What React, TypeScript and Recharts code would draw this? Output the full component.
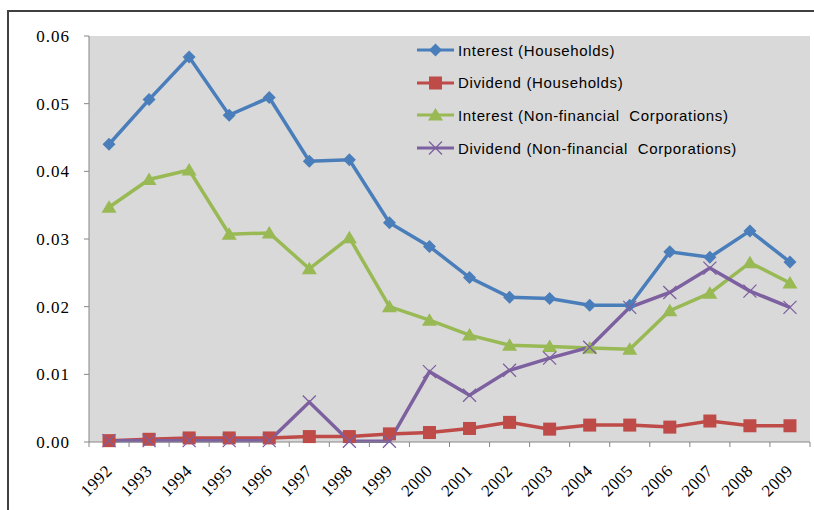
import { LineChart, Line, XAxis, YAxis, CartesianGrid } from 'recharts';

// values
const years = [
  '1992', '1993', '1994', '1995', '1996', '1997', '1998', '1999', '2000',
  '2001', '2002', '2003', '2004', '2005', '2006', '2007', '2008', '2009',
];
const interestHouseholds = [
  0.0440, 0.0506, 0.0569, 0.0483, 0.0509, 0.0415, 0.0417, 0.0324, 0.0289,
  0.0243, 0.0214, 0.0212, 0.0202, 0.0202, 0.0281, 0.0273, 0.0312, 0.0266,
];
const dividendHouseholds = [
  0.0002, 0.0004, 0.0006, 0.0006, 0.0006, 0.0008, 0.0008, 0.0012, 0.0014,
  0.0020, 0.0029, 0.0019, 0.0025, 0.0025, 0.0022, 0.0031, 0.0024, 0.0024,
];
const interestCorporations = [
  0.0347, 0.0388, 0.0402, 0.0307, 0.0309, 0.0256, 0.0302, 0.0200, 0.0180,
  0.0158, 0.0143, 0.0141, 0.0139, 0.0137, 0.0194, 0.0220, 0.0265, 0.0235,
];
const dividendCorporations = [
  0.0002, 0.0002, 0.0002, 0.0002, 0.0002, 0.0059, 0.0001, 0.0001, 0.0104,
  0.0069, 0.0106, 0.0124, 0.0140, 0.0199, 0.0221, 0.0257, 0.0223, 0.0199,
];
const yTicks = [0, 0.01, 0.02, 0.03, 0.04, 0.05, 0.06];

const data = years.map((year, i) => ({
  year,
  ih: interestHouseholds[i],
  dh: dividendHouseholds[i],
  ic: interestCorporations[i],
  dc: dividendCorporations[i],
}));

const BLUE = '#4a7ebb';
const RED = '#be4b48';
const GREEN = '#98b954';
const PURPLE = '#7d60a0';

const W = 814;
const H = 510;
const M = { top: 36, right: 4, bottom: 0, left: 0 };
const X_H = 68;
const Y_W = 89;
const BAND = (W - M.right - Y_W) / years.length;

const serif = '"Liberation Serif", "Times New Roman", serif';
const sans = '"Liberation Sans", Arial, sans-serif';

type DotProps = { cx?: number; cy?: number; color?: string };

const Diamond = ({ cx = 0, cy = 0, color = BLUE }: DotProps) => (
  <path d={`M${cx},${cy - 6.5}L${cx + 6.5},${cy}L${cx},${cy + 6.5}L${cx - 6.5},${cy}Z`} fill={color} />
);
const Square = ({ cx = 0, cy = 0, color = RED }: DotProps) => (
  <rect x={cx - 6.5} y={cy - 6.5} width={13} height={13} fill={color} />
);
const Triangle = ({ cx = 0, cy = 0, color = GREEN }: DotProps) => (
  <path d={`M${cx},${cy - 7}L${cx + 7.5},${cy + 5.5}L${cx - 7.5},${cy + 5.5}Z`} fill={color} />
);
const Cross = ({ cx = 0, cy = 0, color = PURPLE }: DotProps) => (
  <path
    d={`M${cx - 6.5},${cy - 6.5}L${cx + 6.5},${cy + 6.5}M${cx - 6.5},${cy + 6.5}L${cx + 6.5},${cy - 6.5}`}
    stroke={color}
    strokeWidth={1.3}
    fill="none"
  />
);

const legendItems = [
  { label: 'Interest (Households)', color: BLUE, Marker: Diamond },
  { label: 'Dividend (Households)', color: RED, Marker: Square },
  { label: 'Interest (Non-financial  Corporations)', color: GREEN, Marker: Triangle },
  { label: 'Dividend (Non-financial  Corporations)', color: PURPLE, Marker: Cross },
];

function LegendBox() {
  return (
    <div style={{ position: 'absolute', left: 417, top: 34 }}>
      {legendItems.map(({ label, color, Marker }) => (
        <div key={label} style={{ display: 'flex', alignItems: 'center', height: 32.6 }}>
          <svg width={41} height={16}>
            <line x1={0} y1={8} x2={37} y2={8} stroke={color} strokeWidth={3} />
            <Marker cx={18.5} cy={8} color={color} />
          </svg>
          <span style={{ fontFamily: sans, fontSize: 15, letterSpacing: 0.65, color: '#000', whiteSpace: 'pre' }}>
            {label}
          </span>
        </div>
      ))}
    </div>
  );
}

function YearTick(props: any) {
  const { x, y, payload, index } = props;
  const last = index === years.length - 1;
  const tx = x + 4;
  const ty = y + 28;
  return (
    <g>
      <line x1={x - BAND / 2} y1={y - 2} x2={x - BAND / 2} y2={y + 3} stroke="#868686" />
      {last && <line x1={x + BAND / 2} y1={y - 2} x2={x + BAND / 2} y2={y + 3} stroke="#868686" />}
      <text
        x={tx}
        y={ty}
        transform={`rotate(-45, ${tx}, ${ty})`}
        textAnchor="end"
        fontFamily={serif}
        fontSize={17}
        letterSpacing={0.5}
        fill="#000"
      >
        {payload.value}
      </text>
    </g>
  );
}

function ValueTick(props: any) {
  const { x, y, payload } = props;
  return (
    <text x={x} y={y} dy={6} textAnchor="end" fontFamily={serif} fontSize={17} letterSpacing={1} fill="#000">
      {payload.value.toFixed(2)}
    </text>
  );
}

export default function App() {
  return (
    <div style={{ position: 'relative', width: W, height: H, background: '#fff' }}>
      <style>{'body{margin:0}'}</style>
      <div
        style={{
          position: 'absolute',
          left: 7,
          top: 10,
          width: W - 7,
          height: H - 10,
          borderLeft: '2px solid #404040',
          borderTop: '2px solid #404040',
          boxSizing: 'border-box',
        }}
      />
      <div style={{ position: 'absolute', left: 0, top: 0 }}>
        <LineChart width={W} height={H} data={data} margin={M}>
          <CartesianGrid horizontal={false} vertical={false} fill="#d9d9d9" />
          <XAxis
            dataKey="year"
            interval={0}
            padding={{ left: BAND / 2, right: BAND / 2 }}
            tickLine={false}
            tickSize={0}
            axisLine={{ stroke: '#868686' }}
            tick={<YearTick />}
            height={X_H}
          />
          <YAxis
            width={Y_W}
            domain={[0, 0.06]}
            ticks={yTicks}
            axisLine={{ stroke: '#868686' }}
            tickLine={{ stroke: '#868686' }}
            tickSize={5}
            tickMargin={14}
            tick={<ValueTick />}
          />
          <Line dataKey="ih" stroke={BLUE} strokeWidth={3.5} dot={<Diamond />} activeDot={false} isAnimationActive={false} />
          <Line dataKey="dh" stroke={RED} strokeWidth={3.5} dot={<Square />} activeDot={false} isAnimationActive={false} />
          <Line dataKey="ic" stroke={GREEN} strokeWidth={3.5} dot={<Triangle />} activeDot={false} isAnimationActive={false} />
          <Line dataKey="dc" stroke={PURPLE} strokeWidth={3.5} dot={<Cross />} activeDot={false} isAnimationActive={false} />
        </LineChart>
      </div>
      <LegendBox />
    </div>
  );
}
